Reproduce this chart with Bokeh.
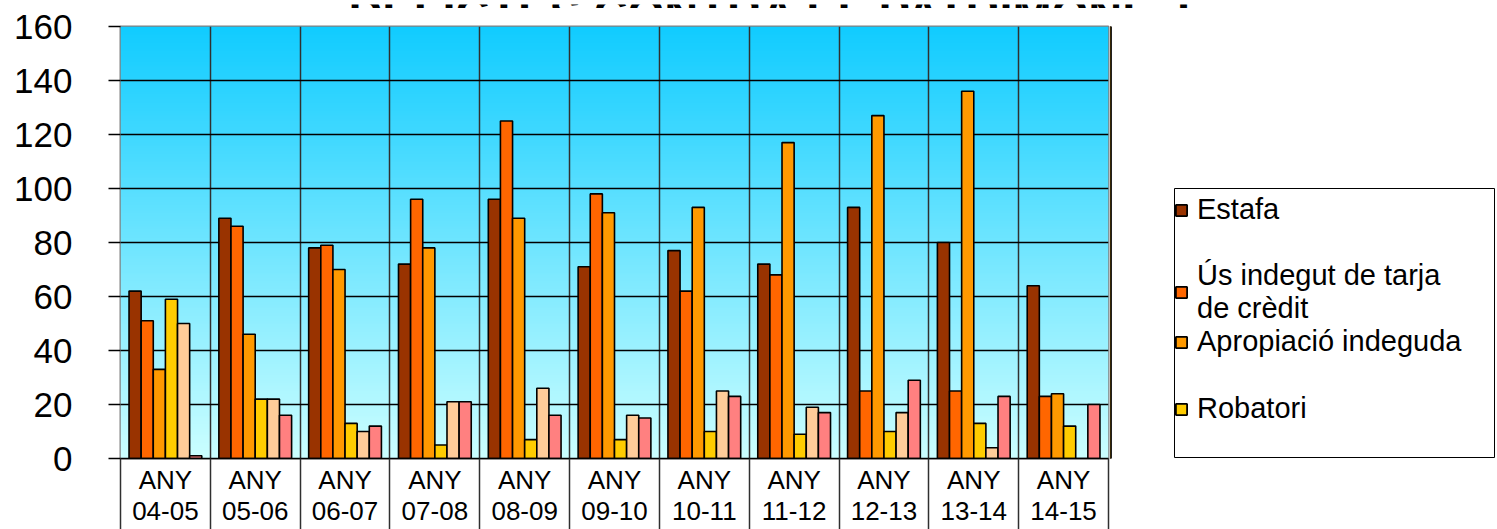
import numpy as np
from bokeh.plotting import figure
from bokeh.layouts import column, row
from bokeh.models import Range1d, FixedTicker, Legend, LegendItem, Label, BoxAnnotation
from bokeh.embed import file_html
from bokeh.resources import INLINE

# ---------------- data ----------------
years = ["04-05", "05-06", "06-07", "07-08", "08-09", "09-10",
         "10-11", "11-12", "12-13", "13-14", "14-15"]
categories = ["ANY\n" + y for y in years]

estafa = [62, 89, 78, 72, 96, 71, 77, 72, 93, 80, 64]
us_tarja = [51, 86, 79, 96, 125, 98, 62, 68, 25, 25, 23]
apropiacio = [33, 46, 70, 78, 89, 91, 93, 117, 127, 136, 24]
robatori = [59, 22, 13, 5, 7, 7, 10, 9, 10, 13, 12]
serie_5 = [50, 22, 10, 21, 26, 16, 25, 19, 17, 4, 0]
serie_6 = [1, 16, 12, 21, 16, 15, 23, 17, 29, 23, 20]

series_names = ["Estafa", "Ús indegut de tarja\nde crèdit", "Apropiació indeguda",
                "Robatori", "Sèrie 5", "Sèrie 6"]
series_values = [estafa, us_tarja, apropiacio, robatori, serie_5, serie_6]
series_colors = ["#993300", "#FF6600", "#FF9900", "#FFCC00", "#FFCC99", "#FF8080"]
legend_count = 4

y_ticks = list(range(0, 161, 20))
title_text = "DELICTES CONTRA EL PATRIMONI - I"

FONT = "Liberation Sans"

# ---------------- title strip (title is cut off at the top in the original) ----------------
tf = figure(width=1497, height=8, x_range=Range1d(0, 1), y_range=Range1d(0, 1),
            output_backend="svg", toolbar_location=None,
            x_axis_location=None, y_axis_location=None,
            min_border=0, outline_line_color=None)
tf.grid.visible = False
tf.add_layout(Label(x=770, y=0, x_units="screen", y_units="screen", text=title_text,
                    text_align="center", text_baseline="alphabetic",
                    text_font=FONT, text_font_style="bold",
                    text_font_size="47px", text_color="black"))

# ---------------- main chart ----------------
n = len(categories)
x_centers = list(range(n))
boundaries = [i - 0.5 for i in range(n + 1)]

p = figure(width=1110, height=521,
           x_range=Range1d(-0.5, n - 0.5), y_range=Range1d(0, 160),
           output_backend="svg", toolbar_location=None,
           min_border_left=120, min_border_right=2,
           min_border_top=18, min_border_bottom=66)
p.background_fill_color = "white"
p.border_fill_color = "white"
p.outline_line_color = "#808080"
p.outline_line_width = 2

# gradient background of plot area
rows = 160
img = np.empty((rows, 2), dtype=np.uint32)
view = img.view(dtype=np.uint8).reshape((rows, 2, 4))
top = np.array([17, 204, 255])
bottom = np.array([204, 255, 255])
for i in range(rows):
    t = (i + 0.5) / rows
    c = bottom + t * (top - bottom)
    view[i, :, 0] = int(c[0]); view[i, :, 1] = int(c[1]); view[i, :, 2] = int(c[2]); view[i, :, 3] = 255
p.image_rgba(image=[img], x=-0.5, y=0, dw=n, dh=160, level="image")

# bars
k_series = len(series_values)
bar_w = 0.135
for k, (vals, col) in enumerate(zip(series_values, series_colors)):
    xs = [c + (k - (k_series - 1) / 2) * bar_w for c in x_centers]
    p.vbar(x=xs, top=vals, width=bar_w, bottom=0,
           fill_color=col, line_color="black", line_width=1.6)

# grids
p.ygrid.ticker = FixedTicker(ticks=y_ticks)
p.ygrid.grid_line_color = "black"
p.ygrid.grid_line_width = 1.5
p.xgrid.ticker = FixedTicker(ticks=boundaries)
p.xgrid.grid_line_color = "#303030"
p.xgrid.grid_line_width = 1.5

# y axis
yax = p.yaxis[0]
yax.ticker = FixedTicker(ticks=y_ticks)
yax.axis_line_color = None
yax.major_tick_in = 0
yax.major_tick_out = 12
yax.major_tick_line_color = "black"
yax.major_tick_line_width = 1.5
yax.minor_tick_line_color = None
yax.major_label_standoff = 36
yax.major_label_text_font = FONT
yax.major_label_text_font_size = "35px"
yax.major_label_text_color = "black"

# x axis: labels at category centres, separators as minor ticks at boundaries
xax = p.xaxis[0]
xax.ticker = FixedTicker(ticks=x_centers, minor_ticks=boundaries)
xax.major_label_overrides = {i: categories[i] for i in range(n)}
xax.major_tick_line_color = None
xax.major_tick_in = 0
xax.major_tick_out = 0
xax.minor_tick_in = 0
xax.minor_tick_out = 72
xax.minor_tick_line_color = "#303030"
xax.minor_tick_line_width = 1.5
xax.axis_line_color = "black"
xax.axis_line_width = 1.5
xax.major_label_standoff = -66
xax.major_label_text_font = FONT
xax.major_label_text_font_size = "26px"
xax.major_label_text_line_height = 1.05
xax.major_label_text_color = "black"

# ---------------- legend panel ----------------
lf = figure(width=387, height=521, x_range=Range1d(0, 1), y_range=Range1d(0, 1),
            output_backend="svg", toolbar_location=None,
            x_axis_location=None, y_axis_location=None,
            min_border=0, outline_line_color=None)
lf.grid.visible = False

# legend frame
lf.add_layout(BoxAnnotation(left=64, right=384, bottom=1, top=270,
                            left_units="screen", right_units="screen",
                            bottom_units="screen", top_units="screen",
                            fill_color="white", fill_alpha=1.0,
                            line_color="black", line_width=1, line_alpha=1.0))

# swatch renderers (kept outside the visible range, only used for the legend glyphs)
legend_renderers = []
for k in range(legend_count):
    legend_renderers.append(lf.vbar(x=[-10], top=[1], width=0.1, fill_color=series_colors[k],
                                    line_color="black", line_width=1.8))

legend_style = dict(glyph_width=14, glyph_height=14, label_standoff=9,
                    padding=4, margin=0, label_height=30, label_width=279,
                    label_text_font=FONT, label_text_font_size="29px",
                    label_text_color="black",
                    border_line_color=None, background_fill_alpha=0.0)

leg1 = Legend(items=[LegendItem(label=series_names[k], renderers=[legend_renderers[k]])
                     for k in range(0, 2)],
              location=(64, 133), spacing=33, **legend_style)
leg2 = Legend(items=[LegendItem(label=series_names[k], renderers=[legend_renderers[k]])
                     for k in range(2, legend_count)],
              location=(64, 33), spacing=34, **legend_style)
lf.add_layout(leg1)
lf.add_layout(leg2)

layout = column(tf, row(p, lf))
open("out.html", "w").write(file_html(layout, INLINE))
